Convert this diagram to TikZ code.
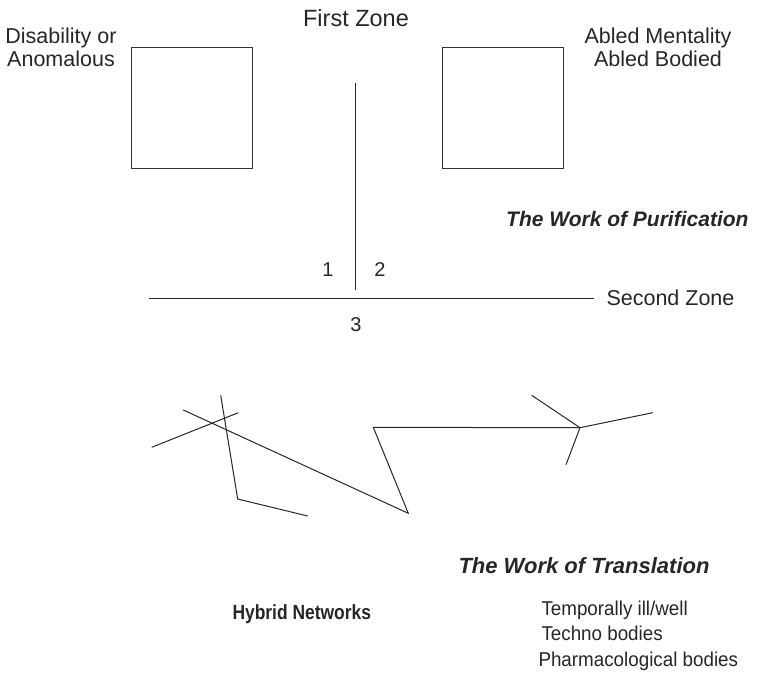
\documentclass[tikz,border=0pt]{standalone}
\usepackage{fontspec}
\setmainfont{Liberation Sans}
\newfontfamily\condlist[FakeStretch=0.94]{Liberation Sans}
\newfontfamily\condbold[FakeStretch=0.85]{Liberation Sans Bold}
\begin{document}
\begin{tikzpicture}[x=1pt,y=-1pt,line width=1pt,line join=miter,
  lbl/.style={font=\fontsize{21.5}{25}\selectfont,inner sep=0pt,text=black!85},
  num/.style={font=\fontsize{20}{24}\selectfont,inner sep=0pt,text=black!85},
  lst/.style={font=\condlist\fontsize{20}{24}\selectfont,inner sep=0pt,text=black!85},
  big/.style={font=\fontsize{23.5}{27}\selectfont,inner sep=0pt,text=black!85},
  bi/.style={font=\fontsize{21}{24}\selectfont\bfseries\itshape,inner sep=0pt,text=black!85},
  bo/.style={font=\condbold\fontsize{20.5}{24}\selectfont,inner sep=0pt,text=black!85},
  zonebox/.style={draw=black!80,minimum width=121pt,minimum height=121pt,inner sep=0pt},
  net/.style={draw=black!85,line width=1pt}]
\useasboundingbox (0,0) rectangle (774,673);

% First zone
\node[big,anchor=base] (fz) at (356,26.7) {First Zone};
\node[lbl,anchor=base] (dis1) at (61,43) {Disability or};
\node[lbl,anchor=base] (dis2) at (61,66.7) {Anomalous};
\node[lbl,anchor=base] (ab1) at (658,43) {Abled Mentality};
\node[lbl,anchor=base] (ab2) at (658,66.7) {Abled Bodied};
\node[zonebox] (boxL) at (192.3,108.2) {};
\node[zonebox] (boxR) at (503,108.2) {};

% Cross
\coordinate (vtop) at (355.5,83);
\coordinate (vbot) at (355.5,289.5);
\coordinate (hL) at (149,298);
\coordinate (hR) at (594,298);
\draw[net] (vtop) -- (vbot);
\draw[net] (hL) -- (hR);
\node[num,anchor=base] (n1) at (328,276) {1};
\node[num,anchor=base] (n2) at (380,276) {2};
\node[num,anchor=base] (n3) at (356,331) {3};
\node[lbl,anchor=base west] (sz) at (606,305) {Second Zone};
\node[bi,anchor=base east] (pur) at (749,226) {The Work of Purification};

% Hybrid network
\coordinate (a1) at (151.7,447.3);
\coordinate (a2) at (238.3,412.7);
\coordinate (b1) at (220.7,395.3);
\coordinate (b2) at (237.7,499);
\coordinate (b3) at (307.7,516);
\coordinate (c1) at (183.3,410);
\coordinate (z1) at (408.3,513.3);
\coordinate (z2) at (373.3,427.3);
\coordinate (s0) at (580,427.7);
\coordinate (s1) at (531.7,395.3);
\coordinate (s2) at (652.7,412.7);
\coordinate (s3) at (566,464.7);
\draw[net] (a1) -- (a2);
\draw[net] (b1) -- (b2) -- (b3);
\draw[net] (c1) -- (z1) -- (z2) -- (s0);
\draw[net] (s1) -- (s0) -- (s2);
\draw[net] (s0) -- (s3);

% Bottom texts
\node[bi,font=\fontsize{22}{26}\selectfont\bfseries\itshape,anchor=base west] (tr) at (458,573) {The Work of Translation};
\node[bo,anchor=base west] (hy) at (232,619) {Hybrid Networks};
\node[lst,anchor=base west] (t1) at (541,615) {Temporally ill/well};
\node[lst,anchor=base west] (t2) at (541,640) {Techno bodies};
\node[lst,anchor=base west] (t3) at (538,666) {Pharmacological bodies};
\end{tikzpicture}
\end{document}
